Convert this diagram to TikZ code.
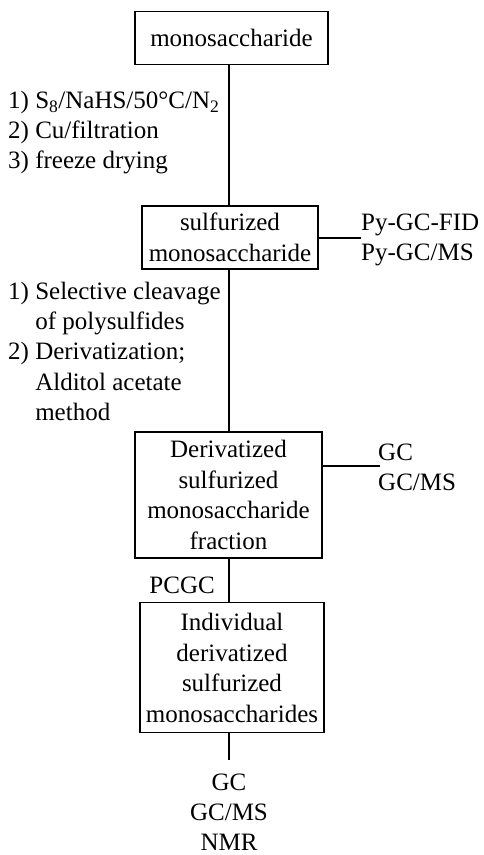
\documentclass[tikz,border=0pt]{standalone}
\usepackage{fontspec}
\setmainfont{Liberation Serif}
\usetikzlibrary{positioning}

\begin{document}
\begin{tikzpicture}[x=1pt, y=1pt,
    txt/.style={font=\fontsize{25}{30.2}\selectfont, inner sep=0pt},
    stage/.style={rectangle, draw, line width=1.5pt, align=center, inner sep=1pt,
        font=\fontsize{25}{30.5}\selectfont},
    link/.style={line width=1.3pt}]

    \useasboundingbox (0,0) rectangle (483,-855);

    % Stages
    \node[stage, minimum width=193pt, minimum height=53pt] (mono) at (231.5,-38) {monosaccharide};
    \node[stage, minimum width=176pt, minimum height=63pt] (sulf) at (230,-237.5) {sulfurized\\monosaccharide};
    \node[stage, minimum width=187pt, minimum height=126pt] (deriv) at (228.5,-495) {Derivatized\\sulfurized\\monosaccharide\\fraction};
    \node[stage, minimum width=184pt, minimum height=130pt] (indiv) at (232,-667.7) {Individual\\derivatized\\sulfurized\\monosaccharides};

    % Main line
    \draw[link] (mono.south -| 229,0) -- (sulf.north -| 229,0);
    \draw[link] (sulf.south -| 229,0) -- (deriv.north -| 229,0);
    \draw[link] (deriv.south -| 229,0) -- (indiv.north -| 229,0);
    \coordinate (endc) at (229,-760);
    \draw[link] (indiv.south -| 229,0) -- (endc);

    % Reaction conditions
    \node[txt, anchor=north west, align=left] (step1) at (8,-91)
        {1) S\textsubscript{8}/NaHS/50°C/N\textsubscript{2}\\2) Cu/filtration\\3) freeze drying};
    \node[txt, anchor=north west, align=left] (step2) at (8,-282)
        {1) Selective cleavage\\\hphantom{1) }of polysulfides\\2) Derivatization;\\\hphantom{1) }Alditol acetate\\\hphantom{1) }method};
    \node[txt, anchor=base east] (pcgc) at (215,-593) {PCGC};

    % Analyses
    \coordinate (py) at (361,-238);
    \draw[link] (sulf.east |- py) -- (py);
    \node[txt, anchor=north west, align=left] (pyan) at (361,-213.5) {Py-GC-FID\\Py-GC/MS};
    \coordinate (gc) at (380,-466);
    \draw[link] (deriv.east |- gc) -- (gc);
    \node[txt, anchor=north west, align=left] (gcan) at (378,-443.5) {GC\\GC/MS};
    \node[txt, anchor=north, align=center] (final) at (229,-773.5) {GC\\GC/MS\\NMR};
\end{tikzpicture}
\end{document}
